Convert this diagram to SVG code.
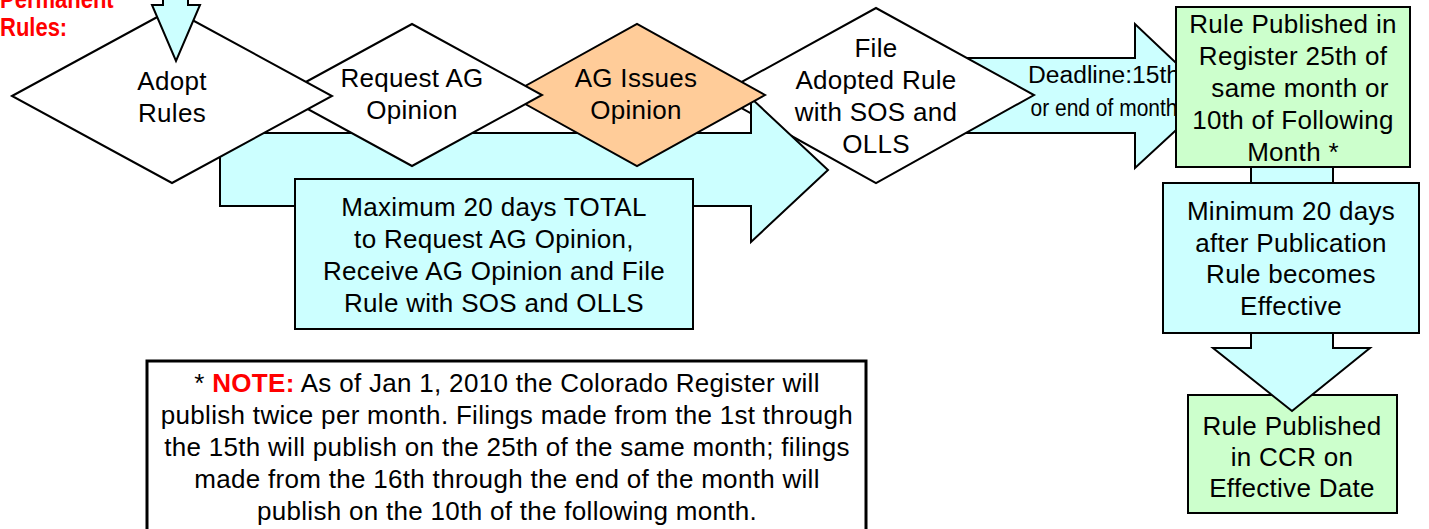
<svg xmlns="http://www.w3.org/2000/svg" width="1429" height="529" viewBox="0 0 1429 529">
<style>
.t{font-family:"Liberation Sans",Arial,sans-serif;font-size:26px;letter-spacing:0.3px;fill:#000;text-anchor:middle}
.dl{font-size:23px;letter-spacing:0}
.sh{stroke:#000;stroke-width:2;stroke-linejoin:miter}
.cy{fill:#CCFFFF}
.gr{fill:#CCFFCC}
.wh{fill:#FFFFFF}
.or{fill:#FFCC99}
.red{fill:#FF0000;font-weight:bold}
</style>
<rect width="1429" height="529" fill="#FFFFFF"/>
<g id="title">
<text transform="translate(0,8) scale(0.88,1)" font-family="'Liberation Sans',Arial,sans-serif" font-size="25" font-weight="bold" fill="#FF0000">Permanent</text>
<text transform="translate(0,36) scale(0.88,1)" font-family="'Liberation Sans',Arial,sans-serif" font-size="25" font-weight="bold" fill="#FF0000">Rules:</text>
</g>
<g id="connectors">
<polygon id="deadline-arrow" class="sh cy" points="960,58 1135,58 1135,24 1212,97 1135,168 1135,133 960,133"/>
</g>
<g id="file-rule">
<polygon class="sh wh" points="718,95 876,8 1034,95 876,183"/>
<text class="t" x="876" y="57">File</text>
<text class="t" x="876" y="89">Adopted Rule</text>
<text class="t" x="876" y="121">with SOS and</text>
<text class="t" x="876" y="153">OLLS</text>
</g>
<g id="deadline-label">
<text class="t dl" x="1104" y="83" textLength="152" lengthAdjust="spacingAndGlyphs">Deadline:15th</text>
<text class="t dl" x="1104" y="116" textLength="147" lengthAdjust="spacingAndGlyphs">or end of month</text>
</g>
<g id="max-20-days-arrow">
<polygon class="sh cy" points="220,133 751,133 751,98 828,170 751,242 751,206 220,206"/>
</g>
<g id="ag-issues">
<polygon class="sh or" points="509,95 637,24 765,95 637,166"/>
<text class="t" x="636" y="87">AG Issues</text>
<text class="t" x="636" y="119">Opinion</text>
</g>
<g id="request-ag">
<polygon class="sh wh" points="282,95 412,24 542,95 412,166"/>
<text class="t" x="412" y="87">Request AG</text>
<text class="t" x="412" y="119">Opinion</text>
</g>
<g id="adopt-rules">
<polygon class="sh wh" points="12,96 172,9 332,96 172,183"/>
<text class="t" x="172" y="90">Adopt</text>
<text class="t" x="172" y="122">Rules</text>
</g>
<g id="start-arrow">
<polygon class="sh cy" points="163,-5 188,-5 188,5 200,5 176,61 152,5 163,5"/>
</g>
<g id="max-20-days">
<rect class="sh cy" x="295" y="179" width="398" height="150"/>
<text class="t" x="494" y="216">Maximum 20 days TOTAL</text>
<text class="t" x="494" y="248">to Request AG Opinion,</text>
<text class="t" x="494" y="280">Receive AG Opinion and File</text>
<text class="t" x="494" y="312">Rule with SOS and OLLS</text>
</g>
<g id="register-published">
<rect class="sh gr" x="1176" y="7" width="234" height="160"/>
<text class="t" x="1293" y="33">Rule Published in</text>
<text class="t" x="1293" y="65">Register 25th of</text>
<text class="t" x="1300" y="97">same month or</text>
<text class="t" x="1293" y="129">10th of Following</text>
<text class="t" x="1293" y="161">Month *</text>
</g>
<g id="ccr-published">
<rect class="sh gr" x="1188" y="395" width="209" height="118"/>
<text class="t" x="1292" y="435">Rule Published</text>
<text class="t" x="1292" y="466">in CCR on</text>
<text class="t" x="1292" y="497">Effective Date</text>
</g>
<g id="effective-arrow">
<polygon class="sh cy" points="1251,167 1333,167 1333,348 1370,348 1292,411 1213,348 1251,348"/>
</g>
<g id="min-20-days">
<rect class="sh cy" x="1163" y="183" width="256" height="150"/>
<text class="t" x="1291" y="220">Minimum 20 days</text>
<text class="t" x="1291" y="252">after Publication</text>
<text class="t" x="1291" y="283">Rule becomes</text>
<text class="t" x="1291" y="315">Effective</text>
</g>
<g id="note">
<rect x="147" y="361" width="719" height="190" fill="#FFFFFF" stroke="#000" stroke-width="3"/>
<text class="t" x="507" y="392">* <tspan class="red">NOTE:</tspan> As of Jan 1, 2010 the Colorado Register will</text>
<text class="t" x="507" y="424">publish twice per month. Filings made from the 1st through</text>
<text class="t" x="507" y="456">the 15th will publish on the 25th of the same month; filings</text>
<text class="t" x="507" y="488">made from the 16th through the end of the month will</text>
<text class="t" x="507" y="520">publish on the 10th of the following month.</text>
</g>
</svg>
